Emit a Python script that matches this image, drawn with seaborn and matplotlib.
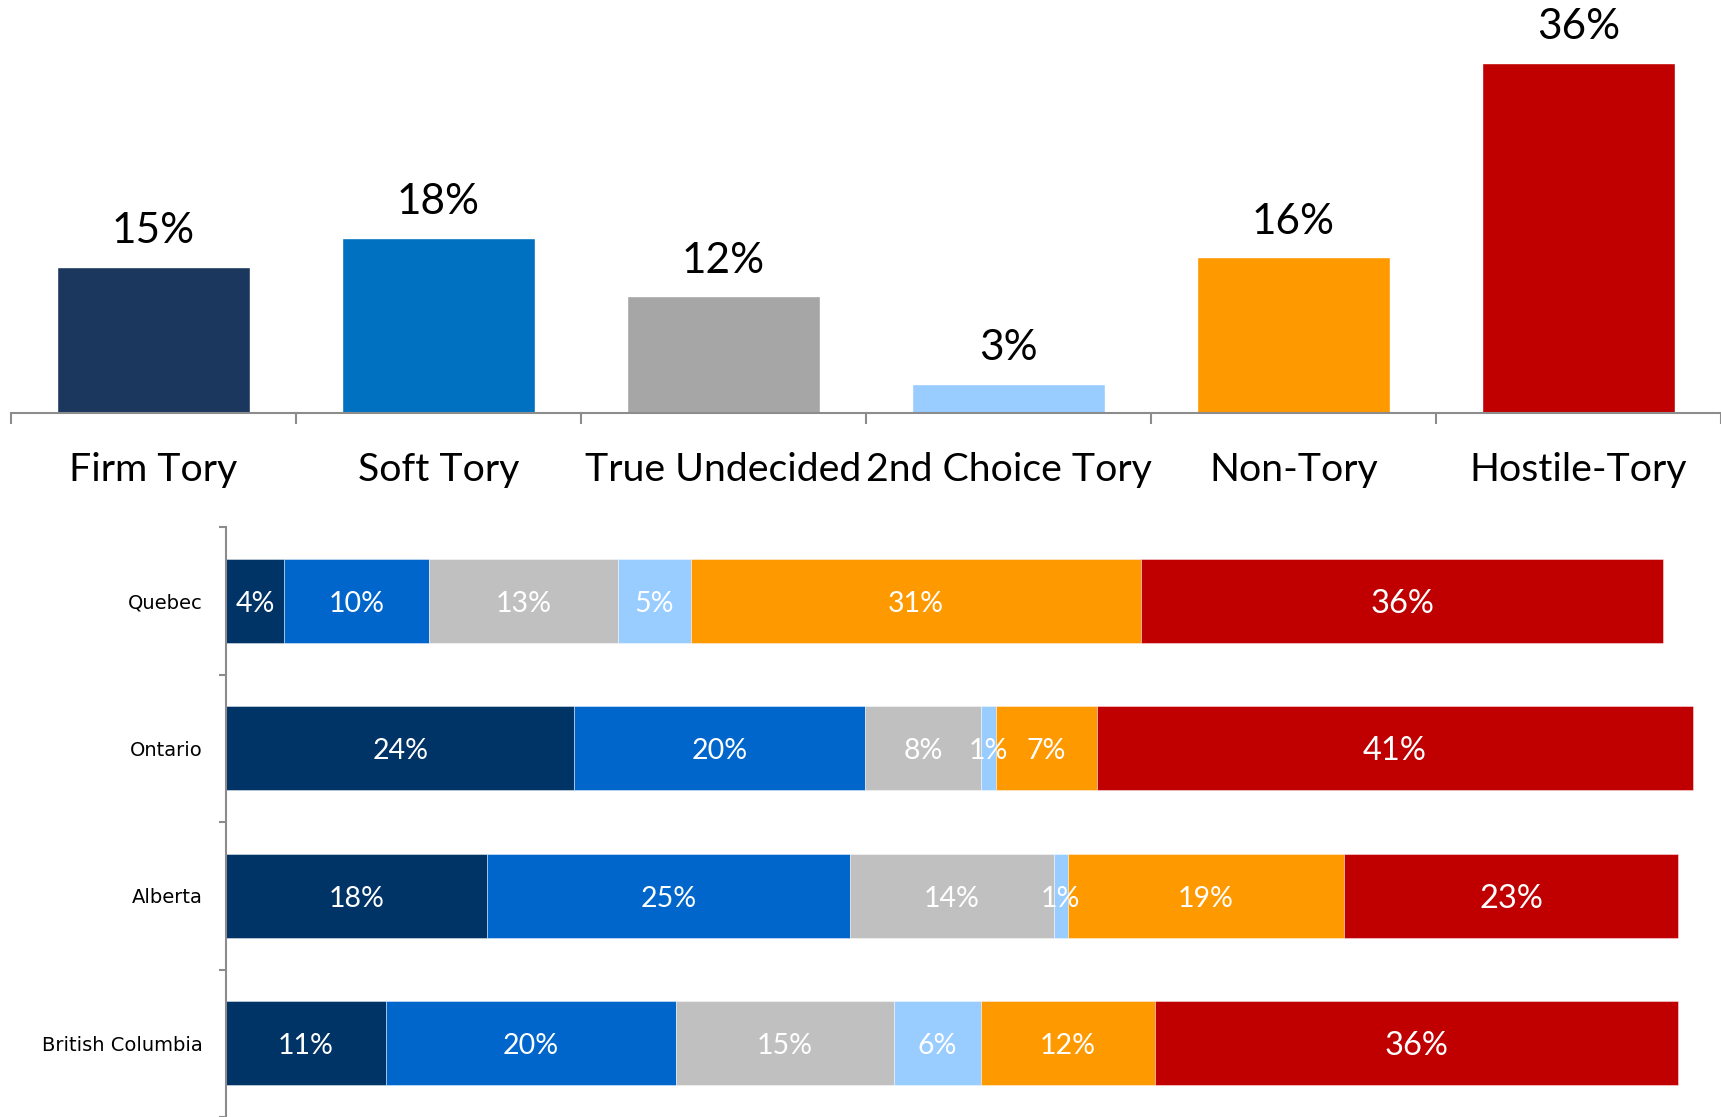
import numpy as np
import pandas as pd
import seaborn as sns
import matplotlib.pyplot as plt

# top chart: overall segments
categories = ['Firm Tory', 'Soft Tory', 'True Undecided', '2nd Choice Tory', 'Non-Tory', 'Hostile-Tory']
overall = [15, 18, 12, 3, 16, 36]
top_colors = ['#1B375D', '#0070C0', '#A6A6A6', '#99CCFF', '#FF9900', '#C00000']

# bottom chart: by province
provinces = ['Quebec', 'Ontario', 'Alberta', 'British Columbia']
firm = [4, 24, 18, 11]
soft = [10, 20, 25, 20]
undecided = [13, 8, 14, 15]
second_choice = [5, 1, 1, 6]
non_tory = [31, 7, 19, 12]
hostile = [36, 41, 23, 36]
seg_colors = ['#003366', '#0066CC', '#C0C0C0', '#99CCFF', '#FF9900', '#C00000']

sns.set_style('white')
plt.rcParams['font.family'] = ['Lato', 'DejaVu Sans']
plt.rcParams['text.color'] = 'black'
plt.rcParams['xtick.color'] = 'black'
plt.rcParams['ytick.color'] = 'black'

W, H = 1721, 1117
fig = plt.figure(figsize=(W / 100, H / 100), dpi=100)

# ---- top bar chart ----
ax1 = fig.add_axes([11 / W, (H - 413) / H, 1 - 11 / W, 389 / H])
sns.barplot(x=categories, y=overall, hue=categories, palette=top_colors,
            width=0.674, saturation=1, legend=False, ax=ax1)
ax1.set_xlim(-0.5, 5.5)
ax1.set_ylim(0, 40)
for p, v in zip(ax1.patches, overall):
    ax1.annotate(f'{v}%', (p.get_x() + p.get_width() / 2, p.get_height()),
                 xytext=(0, 12), textcoords='offset points',
                 ha='center', va='bottom', fontsize=30.5, clip_on=False)
for s in ['top', 'left', 'right']:
    ax1.spines[s].set_visible(False)
ax1.spines['bottom'].set_color('#8C8C8C')
ax1.spines['bottom'].set_linewidth(1.5)
ax1.set_yticks([])
ax1.set_xticks(range(len(categories)))
ax1.set_xticklabels(categories, fontsize=28.3)
ax1.set_xticks(np.arange(-0.5, 6, 1), minor=True)
ax1.tick_params(axis='x', which='major', length=0, pad=28, labelcolor='black')
ax1.tick_params(axis='x', which='minor', length=8, width=1.5, color='#8C8C8C', bottom=True)
ax1.set_xlabel('')
ax1.set_ylabel('')

# ---- bottom stacked bars ----
ax2 = fig.add_axes([226 / W, 0, 1 - 226 / W, 590 / H])
df = pd.DataFrame({'firm': firm, 'soft': soft, 'undecided': undecided,
                   'second': second_choice, 'non': non_tory, 'hostile': hostile},
                  index=provinces)
ypos = np.arange(len(provinces))
left = np.zeros(len(provinces))
for j, col in enumerate(df.columns):
    vals = df[col].values
    ax2.barh(ypos, vals, left=left, height=0.57, color=seg_colors[j],
             edgecolor=(1, 1, 1, 0.5), linewidth=0.6)
    for i, v in enumerate(vals):
        ax2.annotate(f'{v}%', (left[i] + v / 2, ypos[i]), xytext=(0, -2),
                     textcoords='offset points', ha='center', va='center',
                     color='white', fontsize=23.5 if col == 'hostile' else 20.5)
    left += vals
ax2.set_xlim(0, (W - 226) / 14.52)
ax2.set_ylim(3.5, -0.5)
for s in ['top', 'bottom', 'right']:
    ax2.spines[s].set_visible(False)
ax2.spines['left'].set_color('#8C8C8C')
ax2.spines['left'].set_linewidth(1.5)
ax2.set_xticks([])
ax2.set_yticks(ypos)
ax2.set_yticklabels(provinces, fontsize=14, family='DejaVu Sans')
ax2.set_yticks(np.arange(-0.5, 3.6, 1), minor=True)
ax2.tick_params(axis='y', which='major', length=0, pad=17, labelcolor='black')
ax2.tick_params(axis='y', which='minor', length=5, width=1.5, color='#8C8C8C', left=True)

fig.savefig('out.png', dpi=100)
